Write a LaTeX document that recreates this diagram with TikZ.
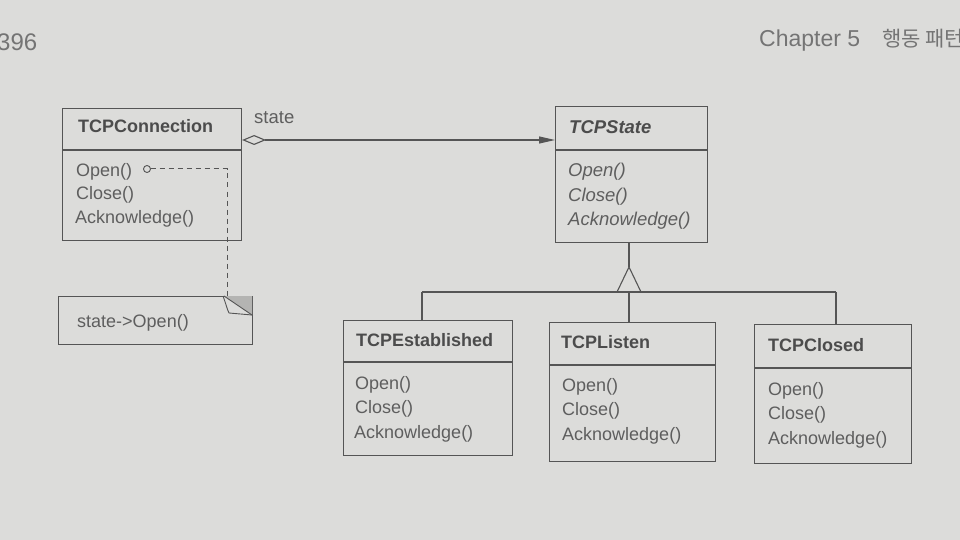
\documentclass[tikz,border=0pt]{standalone}
\usepackage{fontspec}
\setmainfont{Liberation Sans}
\newfontfamily\kofont{Noto Sans CJK KR}
\usetikzlibrary{arrows.meta,calc}
\definecolor{paper}{HTML}{DCDCDA}
\definecolor{ink}{HTML}{555555}
\definecolor{txt}{HTML}{4C4C4C}
\definecolor{mtxt}{HTML}{5E5E5E}
\definecolor{fold}{HTML}{B4B4B2}
\definecolor{head}{HTML}{747474}
\begin{document}
\begin{tikzpicture}[x=1pt,y=-1pt,
  box/.style={draw=ink, line width=1.1pt, rectangle, inner sep=0pt, anchor=north west},
  title/.style={anchor=base west, inner sep=0pt, text=txt, font=\fontsize{18}{20}\selectfont\bfseries},
  ititle/.style={title, font=\fontsize{18.5}{20}\selectfont\bfseries\itshape},
  meth/.style={anchor=base west, inner sep=0pt, text=mtxt, font=\fontsize{18}{20}\selectfont},
  imeth/.style={meth, font=\fontsize{18.5}{20}\selectfont\itshape},
  ln/.style={draw=ink, line width=1.1pt},
  dashline/.style={draw=ink, line width=1pt, dash pattern=on 5pt off 4pt}
]
\useasboundingbox (0,0) rectangle (960,540);
\fill[paper] (0,0) rectangle (960,540);

% page header
\begin{scope}
\clip (0,0) rectangle (960,540);
\node[anchor=base west, inner sep=0pt, text=head, font=\fontsize{24}{26}\selectfont] (pagenum) at (-3,51) {396};
\node[anchor=base west, inner sep=0pt, text=head, font=\fontsize{23}{26}\selectfont] (chap) at (759,47) {Chapter 5\hspace{22pt}{\kofont\fontsize{21}{24}\selectfont 행동 패턴}};
\end{scope}

% TCPConnection
\node[box, minimum width=179, minimum height=132] (conn) at (62,108) {};
\draw[ln] ($(conn.north west)+(0,42)$) -- ($(conn.north east)+(0,42)$);
\node[title] (connT) at (78,133) {TCPConnection};
\node[meth] (connM1) at (76,176) {Open()};
\node[meth] (connM2) at (76,200) {Close()};
\node[meth] (connM3) at (75,223) {Acknowledge()};

% TCPState
\node[box, minimum width=152, minimum height=136] (state) at (555,106) {};
\draw[ln] ($(state.north west)+(0,44)$) -- ($(state.north east)+(0,44)$);
\node[ititle] (stateT) at (569,134) {TCPState};
\node[imeth] (stateM1) at (568,177) {Open()};
\node[imeth] (stateM2) at (568,201) {Close()};
\node[imeth] (stateM3) at (568,225) {Acknowledge()};

% TCPEstablished
\node[box, minimum width=169, minimum height=135] (est) at (343,320) {};
\draw[ln] ($(est.north west)+(0,42)$) -- ($(est.north east)+(0,42)$);
\node[title] (estT) at (356,346) {TCPEstablished};
\node[meth] (estM1) at (355,389) {Open()};
\node[meth] (estM2) at (355,413) {Close()};
\node[meth] (estM3) at (354,438) {Acknowledge()};

% TCPListen
\node[box, minimum width=166, minimum height=139] (listen) at (549,322) {};
\draw[ln] ($(listen.north west)+(0,43)$) -- ($(listen.north east)+(0,43)$);
\node[title] (listenT) at (561,348) {TCPListen};
\node[meth] (listenM1) at (562,391) {Open()};
\node[meth] (listenM2) at (562,415) {Close()};
\node[meth] (listenM3) at (562,440) {Acknowledge()};

% TCPClosed
\node[box, minimum width=157, minimum height=139] (closed) at (754,324) {};
\draw[ln] ($(closed.north west)+(0,44)$) -- ($(closed.north east)+(0,44)$);
\node[title] (closedT) at (768,351) {TCPClosed};
\node[meth] (closedM1) at (768,395) {Open()};
\node[meth] (closedM2) at (768,419) {Close()};
\node[meth] (closedM3) at (768,444) {Acknowledge()};

% note
\node[box, minimum width=194, minimum height=48] (note) at (58,296) {};
\fill[fold] (224,296) -- (252,296) -- (252,315) -- cycle;
\draw[ink, line width=0.9pt] (223,296) .. controls (226,304) and (227,309) .. (229,313) -- (252,315);
\draw[ink, line width=0.9pt] (224,296) -- (252,315);
\node[meth, font=\fontsize{18}{20}\selectfont] (noteT) at (77,327) {state->Open()};

% aggregation: TCPConnection -> TCPState
\coordinate (aggy) at (0,140);
\draw[ln, {Diamond[open, length=24pt, width=10pt, line width=1.1pt]}-{Triangle[length=16pt, width=7pt]}, fill=ink]
  (conn.east |- aggy) -- (state.west |- aggy);
\node[anchor=base west, inner sep=0pt, text=mtxt, font=\fontsize{18.5}{20}\selectfont] (stateLbl) at (254,124) {state};

% note link
\coordinate (circ) at (147,169);
\coordinate (corner) at (227,169);
\draw[ink, line width=0.9pt] (circ) circle (3.5pt);
\draw[dashline] ($(circ)+(3.5,0)$) -- (corner) -- (corner |- note.north);

% inheritance
\coordinate (apex) at (629,267);
\coordinate (junc) at (629,292);
\draw[ln] (state.south -| apex) -- (apex);
\draw[ln, line join=miter] (apex) -- (617,292) -- (641,292) -- cycle;
\coordinate (busL) at (422,292);
\coordinate (busR) at (836,292);
\draw[ln] (busL) -- (busR);
\draw[ln] (busL) -- (busL |- est.north);
\draw[ln] (junc) -- (junc |- listen.north);
\draw[ln] (busR) -- (busR |- closed.north);
\end{tikzpicture}
\end{document}
